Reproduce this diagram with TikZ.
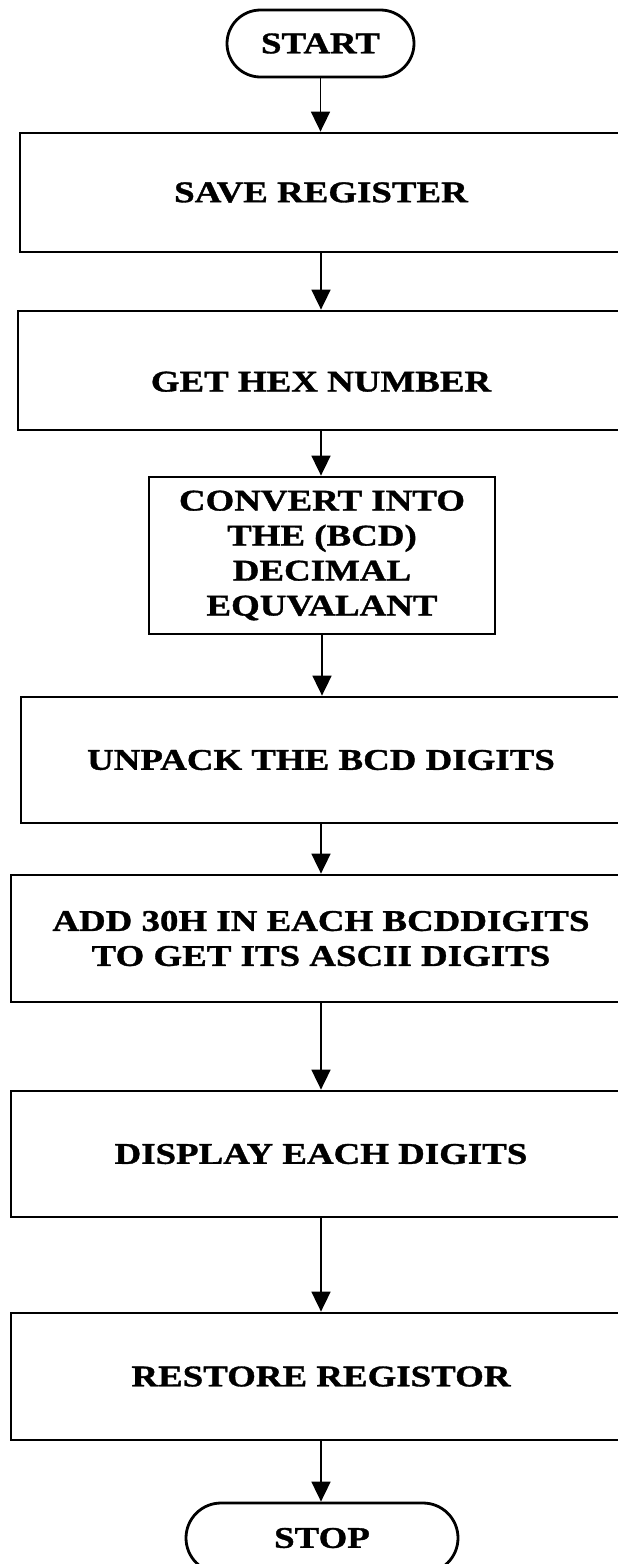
\documentclass[tikz,border=0pt]{standalone}
\usepackage{fontspec}
\setmainfont{Liberation Serif}[FakeStretch=1.23, BoldFeatures={FakeBold=1.2}]
\usetikzlibrary{arrows.meta,shapes.misc}
\begin{document}
\begin{tikzpicture}[x=1pt,y=-1pt,
  every node/.style={font=\fontsize{30}{35}\selectfont\bfseries},
  termbox/.style={rounded rectangle, draw, line width=2.8pt, inner sep=0pt},
  procbox/.style={rectangle, draw, line width=2.8pt, inner sep=0pt, align=center},
  flow/.style={-{Triangle[width=19pt,length=20pt]}, line width=1.8pt}]
\clip (0,0) rectangle (618,1564);

% terminals and process steps
\node[termbox, minimum width=187pt, minimum height=67pt] (start) at (320.5,43.5) {START};
\node[procbox, minimum width=602pt, minimum height=119pt] (save) at (321,192.5) {SAVE REGISTER};
\node[procbox, minimum width=606pt, minimum height=119pt, text height=42pt, text depth=0pt] (hex) at (321,370.5) {GET HEX NUMBER};
\node[procbox, minimum width=346pt, minimum height=157pt] (conv) at (322,555.5) {CONVERT INTO\\THE (BCD)\\DECIMAL\\EQUVALANT};
\node[procbox, minimum width=600pt, minimum height=126pt] (unpack) at (321,760) {UNPACK THE BCD DIGITS};
\node[procbox, minimum width=620pt, minimum height=127pt] (add) at (321,938.5) {ADD 30H IN EACH BCDDIGITS\\TO GET ITS ASCII DIGITS};
\node[procbox, minimum width=620pt, minimum height=126pt] (disp) at (321,1154) {DISPLAY EACH DIGITS};
\node[procbox, minimum width=620pt, minimum height=127pt] (rest) at (321,1376.5) {RESTORE REGISTOR};
\node[termbox, minimum width=272pt, minimum height=70pt] (stop) at (322,1538) {STOP};

% connectors
\draw[flow] (start.south) -- (start.south |- save.north);
\draw[flow] (save.south) -- (save.south |- hex.north);
\draw[flow] (hex.south) -- (hex.south |- conv.north);
\draw[flow] (conv.south) -- (conv.south |- unpack.north);
\draw[flow] (unpack.south) -- (unpack.south |- add.north);
\draw[flow] (add.south) -- (add.south |- disp.north);
\draw[flow] (disp.south) -- (disp.south |- rest.north);
\draw[flow] (rest.south) -- (rest.south |- stop.north);
\end{tikzpicture}
\end{document}
